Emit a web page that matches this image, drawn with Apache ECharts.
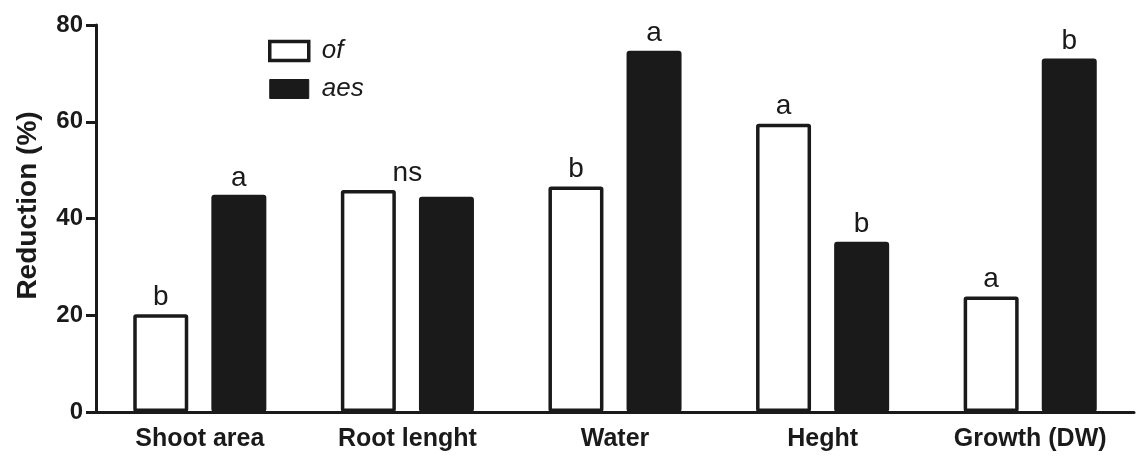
<!DOCTYPE html>
<html><head><meta charset="utf-8">
<script src="https://cdn.jsdelivr.net/npm/echarts@6/dist/echarts.min.js"></script>
<style>html,body{margin:0;padding:0;background:#fff}#c{width:1147px;height:460px}</style>
</head><body><div id="c"></div>
<script>
const categories = ['Shoot area', 'Root lenght', 'Water', 'Heght', 'Growth (DW)'];
const ofValues = [20.2, 45.9, 46.6, 59.6, 23.9];
const aesValues = [44.9, 44.5, 74.7, 35.2, 73.1];
const ofLetters = ['b', 'ns', 'b', 'a', 'a'];
const aesLetters = ['a', '', 'a', 'b', 'b'];
const yTicks = [0, 20, 40, 60, 80];

const dark = '#1a1a1a';
const font = '"Liberation Sans", Arial, sans-serif';
const chart = echarts.init(document.getElementById('c'));

function labelFor(letter) {
  const o = { show: !!letter, position: 'top', distance: 3, formatter: letter,
    fontFamily: font, fontSize: 28, color: dark };
  if (letter === 'ns') { o.offset = [39, 0]; }
  return o;
}

chart.setOption({
  animation: false,
  textStyle: { fontFamily: font },
  grid: { left: 96, right: 13, top: 25, bottom: 48 },
  legend: {
    left: 263, top: 33, orient: 'vertical', icon: 'rect', itemWidth: 39, itemHeight: 19, itemGap: 12,
    textStyle: { fontFamily: font, fontSize: 26, fontStyle: 'italic', color: dark, padding: [0, 0, 0, 8] },
    data: [
      { name: 'of', itemStyle: { color: '#fff', borderColor: dark, borderWidth: 3.5 } },
      { name: 'aes', itemStyle: { color: dark, borderColor: dark, borderWidth: 1 } }
    ]
  },
  xAxis: {
    type: 'category', data: categories,
    axisLine: { lineStyle: { color: dark, width: 3 } },
    axisTick: { alignWithLabel: true, length: 9, lineStyle: { color: dark, width: 3 } },
    axisLabel: { fontFamily: font, fontSize: 25, fontWeight: 'bold', color: dark, margin: 15 }
  },
  yAxis: {
    type: 'value', min: 0, max: 80, interval: 20,
    name: 'Reduction (%)', nameLocation: 'middle', nameGap: 54,
    nameTextStyle: { fontFamily: font, fontSize: 28, fontWeight: 'bold', color: dark, padding: [0, 0, 0, 26] },
    axisLine: { show: true, lineStyle: { color: dark, width: 3 } },
    axisTick: { show: true, length: 10, lineStyle: { color: dark, width: 3 } },
    axisLabel: { fontFamily: font, fontSize: 24, fontWeight: 'bold', color: dark, margin: 13,
      formatter: v => yTicks.includes(v) ? String(v) : '' },
    splitLine: { show: false }
  },
  series: [
    { name: 'of', type: 'bar', barWidth: 55, barGap: '42%',
      itemStyle: { color: '#fff', borderColor: dark, borderWidth: 3.5, borderRadius: 1 },
      data: ofValues.map((v, i) => ({ value: v, label: labelFor(ofLetters[i]) })) },
    { name: 'aes', type: 'bar', barWidth: 55,
      itemStyle: { color: dark, borderColor: dark, borderWidth: 2, borderRadius: 2 },
      data: aesValues.map((v, i) => ({ value: v, label: labelFor(aesLetters[i]) })) }
  ]
});
</script></body></html>
